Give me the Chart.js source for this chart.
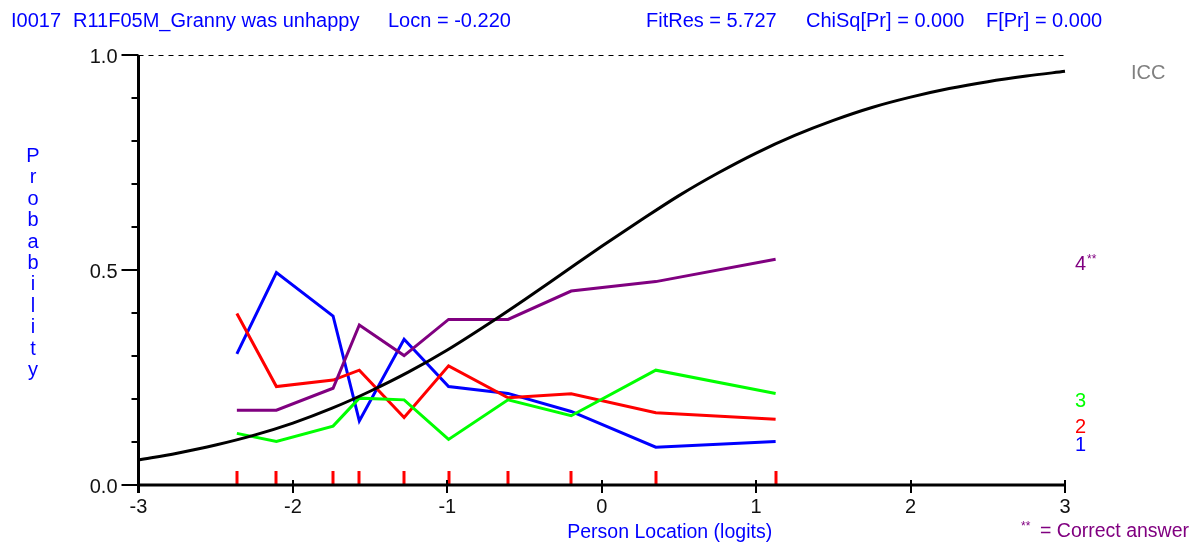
<!DOCTYPE html>
<html>
<head>
<meta charset="utf-8">
<script src="https://cdn.jsdelivr.net/npm/chart.js@4/dist/chart.umd.min.js"></script>
<style>
  html, body { margin: 0; padding: 0; background: #fff; }
  canvas { display: block; }
</style>
</head>
<body>
<canvas id="icc" width="1199" height="544"></canvas>
<script>
// Class-interval mean person locations (logits)
const classLocations = [-2.363, -2.107, -1.740, -1.570, -1.280, -0.992, -0.607, -0.198, 0.350, 1.126];

// Observed proportions choosing each response category, per class interval
const category1 = [0.305, 0.494, 0.393, 0.149, 0.339, 0.229, 0.213, 0.171, 0.088, 0.101];
const category2 = [0.399, 0.229, 0.244, 0.267, 0.157, 0.277, 0.203, 0.212, 0.168, 0.153];
const category3 = [0.120, 0.101, 0.137, 0.202, 0.198, 0.106, 0.198, 0.161, 0.267, 0.213];
const category4 = [0.174, 0.174, 0.225, 0.372, 0.301, 0.385, 0.385, 0.451, 0.473, 0.525];

// Item characteristic curve
const iccLocations = [-3, -2.75, -2.5, -2.25, -2, -1.75, -1.5, -1.25, -1, -0.75, -0.5, -0.25,
                      0, 0.25, 0.5, 0.75, 1, 1.25, 1.5, 1.75, 2, 2.25, 2.5, 2.75, 3];
const iccValues = [0.058, 0.074, 0.093, 0.116, 0.144, 0.178, 0.218, 0.263, 0.314, 0.371, 0.431, 0.493,
                   0.555, 0.615, 0.673, 0.725, 0.772, 0.813, 0.848, 0.878, 0.902, 0.922, 0.938, 0.951, 0.962];

// Axis ticks
const xTicks = [-3, -2, -1, 0, 1, 2, 3];
const xTickLabels = ['-3', '-2', '-1', '0', '1', '2', '3'];
const yTicks = [0, 0.1, 0.2, 0.3, 0.4, 0.5, 0.6, 0.7, 0.8, 0.9, 1.0];
const yLabelledTicks = [0, 0.5, 1.0];
const yTickLabels = ['0.0', '0.5', '1.0'];

// Header statistics
const itemTitle = ['I0017', 'R11F05M_Granny was unhappy'];
const headerStats = ['Locn = -0.220', 'FitRes = 5.727', 'ChiSq[Pr] = 0.000', 'F[Pr] = 0.000'];

const categoryNames = ['1', '2', '3', '4'];
const categoryColors = ['#0000ff', '#ff0000', '#00ff00', '#800080'];

const FONT = '"Liberation Sans", Arial, sans-serif';

function pts(xs, ys) { return xs.map((v, i) => ({ x: v, y: ys[i] })); }

const categorySeries = [category1, category2, category3, category4];

const datasets = [
  {
    label: 'ICC',
    data: pts(iccLocations, iccValues),
    borderColor: '#000000',
    borderWidth: 3,
    pointRadius: 0,
    cubicInterpolationMode: 'monotone',
    clip: false
  }
];
// category 4 drawn above 3, 2, 1
for (let k = 3; k >= 0; k--) {
  datasets.push({
    label: categoryNames[k],
    data: pts(classLocations, categorySeries[k]),
    borderColor: categoryColors[k],
    borderWidth: 3,
    pointRadius: 0,
    tension: 0,
    clip: false
  });
}

const decorations = {
  id: 'decorations',
  afterDatasetsDraw(chart) {
    const { ctx, scales: { x, y } } = chart;
    const x0 = x.getPixelForValue(-3), x1 = x.getPixelForValue(3);
    const y0 = y.getPixelForValue(0), y1 = y.getPixelForValue(1);
    ctx.save();

    // dashed upper limit at probability 1
    ctx.strokeStyle = '#000';
    ctx.lineWidth = 1;
    ctx.setLineDash([5, 5]);
    ctx.beginPath(); ctx.moveTo(x0, Math.round(y1) + 0.5); ctx.lineTo(x1, Math.round(y1) + 0.5); ctx.stroke();
    ctx.setLineDash([]);

    // class interval markers along the baseline
    ctx.strokeStyle = '#ff0000';
    ctx.lineWidth = 3;
    classLocations.forEach(v => {
      const px = Math.round(x.getPixelForValue(v));
      ctx.beginPath(); ctx.moveTo(px, y0 - 14); ctx.lineTo(px, y0); ctx.stroke();
    });

    // axes
    ctx.strokeStyle = '#000';
    ctx.lineWidth = 3;
    ctx.beginPath(); ctx.moveTo(x0, y1); ctx.lineTo(x0, y0 + 8); ctx.stroke();
    ctx.beginPath(); ctx.moveTo(x0, y0); ctx.lineTo(x1, y0); ctx.stroke();

    ctx.lineWidth = 2;
    xTicks.forEach(v => {
      const px = Math.round(x.getPixelForValue(v));
      ctx.beginPath(); ctx.moveTo(px, y0 - 5); ctx.lineTo(px, y0 + 8); ctx.stroke();
    });
    yTicks.forEach(v => {
      const py = Math.round(y.getPixelForValue(v));
      const major = yLabelledTicks.some(t => Math.abs(t - v) < 1e-9);
      ctx.beginPath(); ctx.moveTo(x0 - (major ? 17 : 7), py); ctx.lineTo(x0, py); ctx.stroke();
    });

    // tick labels
    ctx.font = '20px ' + FONT;
    ctx.fillStyle = '#111';
    ctx.textBaseline = 'alphabetic';
    ctx.textAlign = 'center';
    xTicks.forEach((v, i) => {
      ctx.fillText(xTickLabels[i], x.getPixelForValue(v), y0 + 28);
    });
    ctx.textAlign = 'right';
    yLabelledTicks.forEach((v, i) => {
      ctx.fillText(yTickLabels[i], x0 - 21, y.getPixelForValue(v) + 8);
    });

    // axis titles
    ctx.fillStyle = '#0000ff';
    ctx.textAlign = 'center';
    ctx.font = '19.5px ' + FONT;
    ctx.fillText('Person Location (logits)', x.getPixelForValue(0.44), 538);
    ctx.font = '20px ' + FONT;
    const word = 'Probability';
    for (let i = 0; i < word.length; i++) {
      ctx.fillText(word[i], 33, 162 + i * 21.4);
    }

    // header
    ctx.textAlign = 'left';
    ctx.fillText(itemTitle[0], 11, 27);
    ctx.fillText(itemTitle[1], 73, 27);
    const statX = [388, 646, 806, 986];
    headerStats.forEach((t, i) => ctx.fillText(t, statX[i], 27));

    // curve labels at the end of each series
    ctx.fillStyle = '#808080';
    ctx.fillText('ICC', 1131, y.getPixelForValue(iccValues[iccValues.length - 1]) + 7.5);
    const labelNudge = [2, 6, 6, 3];
    categorySeries.forEach((s, k) => {
      const py = y.getPixelForValue(s[s.length - 1]) + labelNudge[k] + 7.5;
      ctx.fillStyle = categoryColors[k];
      ctx.font = '20px ' + FONT;
      ctx.fillText(categoryNames[k], 1075, py);
      if (k === 3) {
        ctx.font = '12px ' + FONT;
        ctx.fillText('**', 1087, py - 7);
      }
    });

    // key for the correct answer
    ctx.fillStyle = '#800080';
    ctx.font = '12px ' + FONT;
    ctx.fillText('**', 1021, 530);
    ctx.font = '19.5px ' + FONT;
    ctx.fillText('= Correct answer', 1040, 537);

    ctx.restore();
  }
};

new Chart(document.getElementById('icc'), {
  type: 'line',
  data: { datasets },
  options: {
    responsive: false,
    animation: false,
    devicePixelRatio: 1,
    layout: { padding: { left: 138.5, right: 134, top: 55, bottom: 59 } },
    scales: {
      x: { type: 'linear', min: -3, max: 3, display: false },
      y: { type: 'linear', min: 0, max: 1, display: false }
    },
    plugins: {
      legend: { display: false },
      tooltip: { enabled: false }
    },
    elements: { line: { borderJoinStyle: 'miter', borderCapStyle: 'butt' } }
  },
  plugins: [decorations]
});
</script>
</body>
</html>
